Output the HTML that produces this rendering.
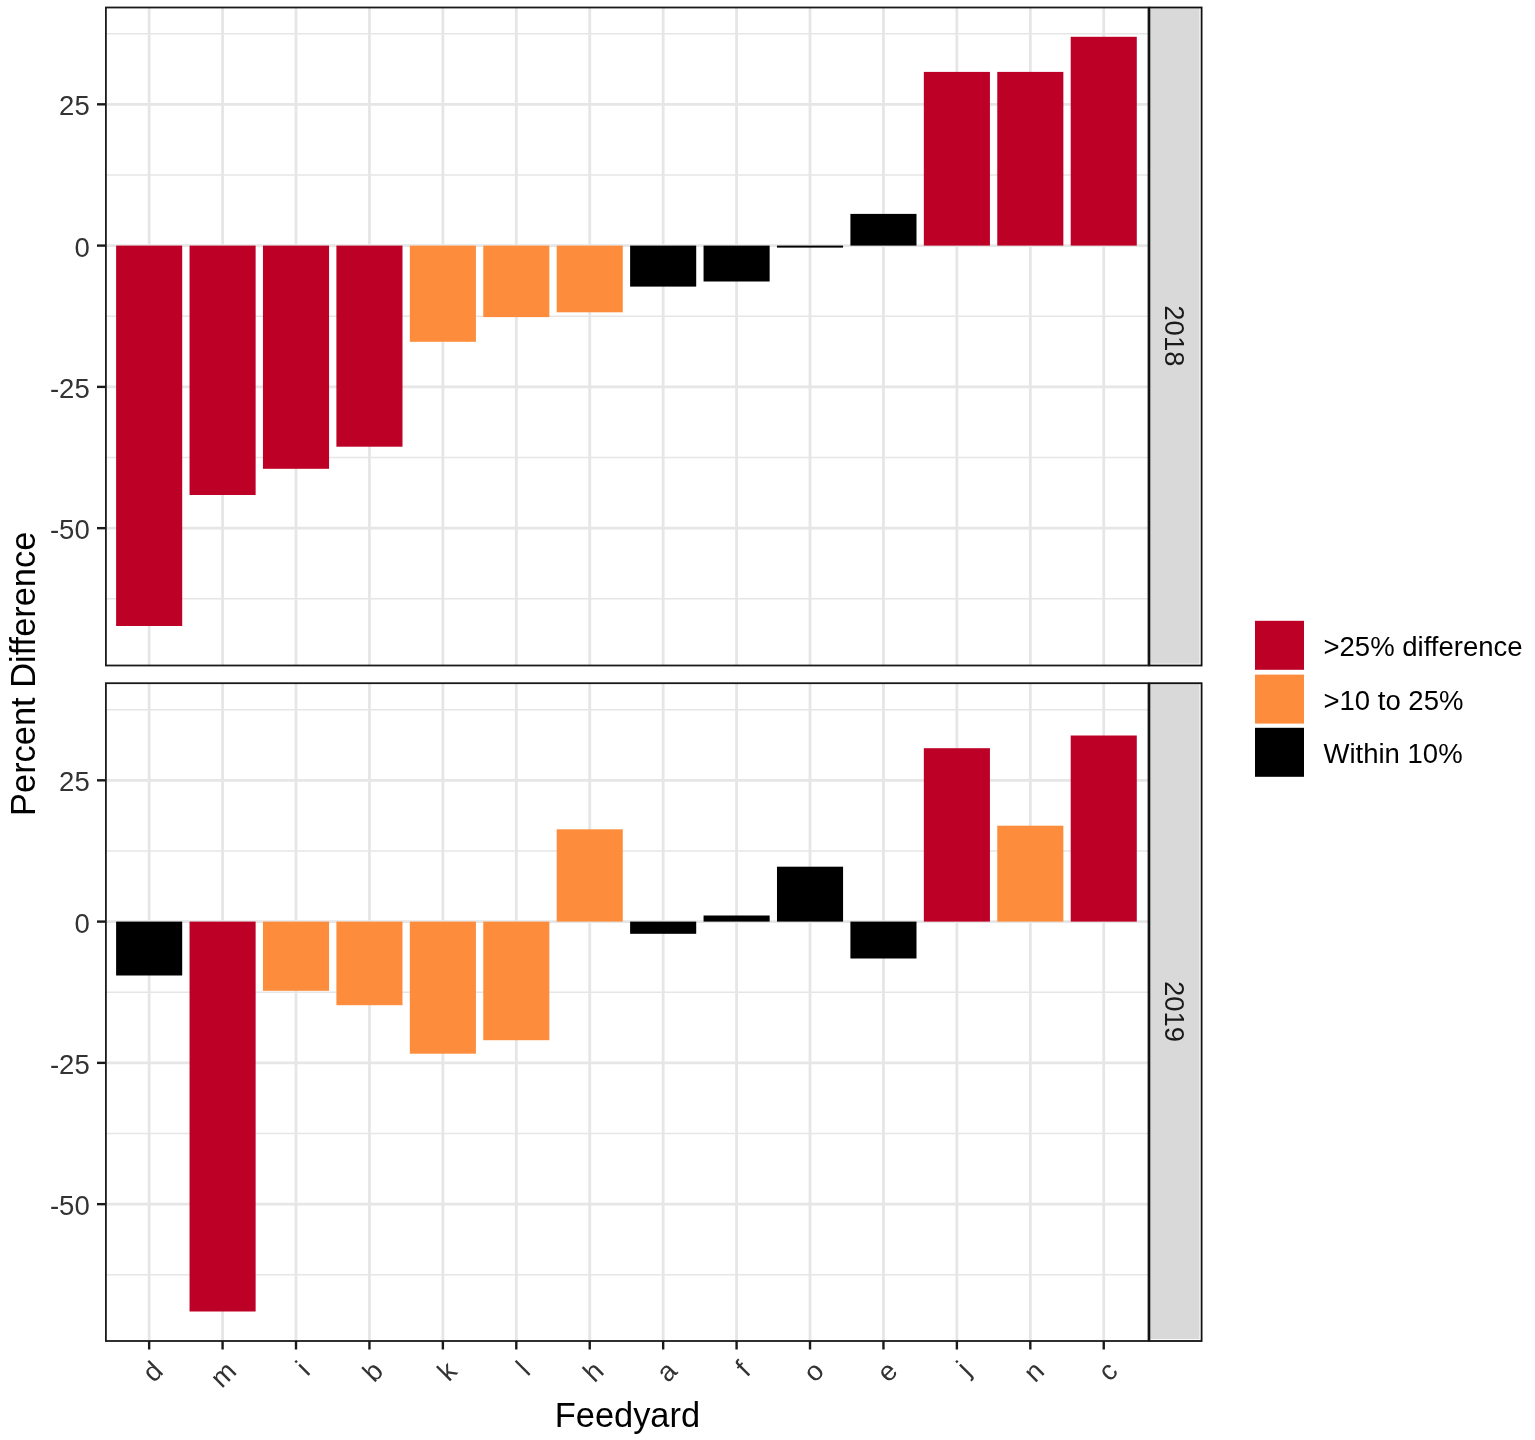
<!DOCTYPE html>
<html><head><meta charset="utf-8"><title>Percent Difference by Feedyard</title>
<style>
html,body{margin:0;padding:0;background:#fff;}
svg{display:block;}
text{font-family:"Liberation Sans",Arial,sans-serif;}
.ax{font-size:27.5px;fill:#333333;}
.st{font-size:27.5px;fill:#1A1A1A;}
.lg{font-size:27.5px;fill:#000;}
.ti{font-size:34.4px;fill:#000;}
</style></head><body>
<svg width="1535" height="1440" viewBox="0 0 1535 1440">
<rect width="1535" height="1440" fill="#fff"/>
<rect x="105.9" y="7.5" width="1042.6" height="658.0" fill="#fff"/>
<line x1="105.9" x2="1148.5" y1="33.68" y2="33.68" stroke="#E6E6E6" stroke-width="1.4"/>
<line x1="105.9" x2="1148.5" y1="174.96" y2="174.96" stroke="#E6E6E6" stroke-width="1.4"/>
<line x1="105.9" x2="1148.5" y1="316.24" y2="316.24" stroke="#E6E6E6" stroke-width="1.4"/>
<line x1="105.9" x2="1148.5" y1="457.52" y2="457.52" stroke="#E6E6E6" stroke-width="1.4"/>
<line x1="105.9" x2="1148.5" y1="598.80" y2="598.80" stroke="#E6E6E6" stroke-width="1.4"/>
<line x1="105.9" x2="1148.5" y1="104.32" y2="104.32" stroke="#E6E6E6" stroke-width="2.8"/>
<line x1="105.9" x2="1148.5" y1="245.60" y2="245.60" stroke="#E6E6E6" stroke-width="2.8"/>
<line x1="105.9" x2="1148.5" y1="386.88" y2="386.88" stroke="#E6E6E6" stroke-width="2.8"/>
<line x1="105.9" x2="1148.5" y1="528.16" y2="528.16" stroke="#E6E6E6" stroke-width="2.8"/>
<line x1="149.15" x2="149.15" y1="7.5" y2="665.5" stroke="#E6E6E6" stroke-width="2.8"/>
<line x1="222.58" x2="222.58" y1="7.5" y2="665.5" stroke="#E6E6E6" stroke-width="2.8"/>
<line x1="296.01" x2="296.01" y1="7.5" y2="665.5" stroke="#E6E6E6" stroke-width="2.8"/>
<line x1="369.44" x2="369.44" y1="7.5" y2="665.5" stroke="#E6E6E6" stroke-width="2.8"/>
<line x1="442.87" x2="442.87" y1="7.5" y2="665.5" stroke="#E6E6E6" stroke-width="2.8"/>
<line x1="516.30" x2="516.30" y1="7.5" y2="665.5" stroke="#E6E6E6" stroke-width="2.8"/>
<line x1="589.73" x2="589.73" y1="7.5" y2="665.5" stroke="#E6E6E6" stroke-width="2.8"/>
<line x1="663.16" x2="663.16" y1="7.5" y2="665.5" stroke="#E6E6E6" stroke-width="2.8"/>
<line x1="736.59" x2="736.59" y1="7.5" y2="665.5" stroke="#E6E6E6" stroke-width="2.8"/>
<line x1="810.02" x2="810.02" y1="7.5" y2="665.5" stroke="#E6E6E6" stroke-width="2.8"/>
<line x1="883.45" x2="883.45" y1="7.5" y2="665.5" stroke="#E6E6E6" stroke-width="2.8"/>
<line x1="956.88" x2="956.88" y1="7.5" y2="665.5" stroke="#E6E6E6" stroke-width="2.8"/>
<line x1="1030.31" x2="1030.31" y1="7.5" y2="665.5" stroke="#E6E6E6" stroke-width="2.8"/>
<line x1="1103.74" x2="1103.74" y1="7.5" y2="665.5" stroke="#E6E6E6" stroke-width="2.8"/>
<rect x="116.11" y="245.60" width="66.09" height="380.40" fill="#BD0026"/>
<rect x="189.54" y="245.60" width="66.09" height="249.40" fill="#BD0026"/>
<rect x="262.96" y="245.60" width="66.09" height="223.20" fill="#BD0026"/>
<rect x="336.40" y="245.60" width="66.09" height="201.10" fill="#BD0026"/>
<rect x="409.82" y="245.60" width="66.09" height="96.20" fill="#FD8D3C"/>
<rect x="483.26" y="245.60" width="66.09" height="71.50" fill="#FD8D3C"/>
<rect x="556.69" y="245.60" width="66.09" height="66.70" fill="#FD8D3C"/>
<rect x="630.12" y="245.60" width="66.09" height="41.00" fill="#000000"/>
<rect x="703.55" y="245.60" width="66.09" height="35.90" fill="#000000"/>
<rect x="776.98" y="245.60" width="66.09" height="2.00" fill="#000000"/>
<rect x="850.41" y="213.90" width="66.09" height="31.70" fill="#000000"/>
<rect x="923.84" y="71.90" width="66.09" height="173.70" fill="#BD0026"/>
<rect x="997.27" y="71.90" width="66.09" height="173.70" fill="#BD0026"/>
<rect x="1070.70" y="36.80" width="66.09" height="208.80" fill="#BD0026"/>
<rect x="105.9" y="7.5" width="1042.6" height="658.0" fill="none" stroke="#1A1A1A" stroke-width="1.8"/>
<rect x="1149.4" y="7.5" width="52.19999999999982" height="658.0" fill="#fff"/>
<rect x="1149.9" y="8.3" width="49.59999999999982" height="655.4" fill="#D9D9D9"/>
<rect x="1149.4" y="7.5" width="52.19999999999982" height="658.0" fill="none" stroke="#111" stroke-width="1.8"/>
<text x="0" y="0" transform="translate(1174.3 335.9) rotate(90)" text-anchor="middle" dy="0.355em" class="st">2018</text>
<line x1="97" x2="105.9" y1="104.32" y2="104.32" stroke="#1A1A1A" stroke-width="2.4"/>
<text x="89.7" y="115.22" text-anchor="end" class="ax">25</text>
<line x1="97" x2="105.9" y1="245.60" y2="245.60" stroke="#1A1A1A" stroke-width="2.4"/>
<text x="89.7" y="256.50" text-anchor="end" class="ax">0</text>
<line x1="97" x2="105.9" y1="386.88" y2="386.88" stroke="#1A1A1A" stroke-width="2.4"/>
<text x="89.7" y="397.78" text-anchor="end" class="ax">-25</text>
<line x1="97" x2="105.9" y1="528.16" y2="528.16" stroke="#1A1A1A" stroke-width="2.4"/>
<text x="89.7" y="539.06" text-anchor="end" class="ax">-50</text>
<rect x="105.9" y="683.2" width="1042.6" height="657.8" fill="#fff"/>
<line x1="105.9" x2="1148.5" y1="709.68" y2="709.68" stroke="#E6E6E6" stroke-width="1.4"/>
<line x1="105.9" x2="1148.5" y1="850.96" y2="850.96" stroke="#E6E6E6" stroke-width="1.4"/>
<line x1="105.9" x2="1148.5" y1="992.24" y2="992.24" stroke="#E6E6E6" stroke-width="1.4"/>
<line x1="105.9" x2="1148.5" y1="1133.52" y2="1133.52" stroke="#E6E6E6" stroke-width="1.4"/>
<line x1="105.9" x2="1148.5" y1="1274.80" y2="1274.80" stroke="#E6E6E6" stroke-width="1.4"/>
<line x1="105.9" x2="1148.5" y1="780.32" y2="780.32" stroke="#E6E6E6" stroke-width="2.8"/>
<line x1="105.9" x2="1148.5" y1="921.60" y2="921.60" stroke="#E6E6E6" stroke-width="2.8"/>
<line x1="105.9" x2="1148.5" y1="1062.88" y2="1062.88" stroke="#E6E6E6" stroke-width="2.8"/>
<line x1="105.9" x2="1148.5" y1="1204.16" y2="1204.16" stroke="#E6E6E6" stroke-width="2.8"/>
<line x1="149.15" x2="149.15" y1="683.2" y2="1341.0" stroke="#E6E6E6" stroke-width="2.8"/>
<line x1="222.58" x2="222.58" y1="683.2" y2="1341.0" stroke="#E6E6E6" stroke-width="2.8"/>
<line x1="296.01" x2="296.01" y1="683.2" y2="1341.0" stroke="#E6E6E6" stroke-width="2.8"/>
<line x1="369.44" x2="369.44" y1="683.2" y2="1341.0" stroke="#E6E6E6" stroke-width="2.8"/>
<line x1="442.87" x2="442.87" y1="683.2" y2="1341.0" stroke="#E6E6E6" stroke-width="2.8"/>
<line x1="516.30" x2="516.30" y1="683.2" y2="1341.0" stroke="#E6E6E6" stroke-width="2.8"/>
<line x1="589.73" x2="589.73" y1="683.2" y2="1341.0" stroke="#E6E6E6" stroke-width="2.8"/>
<line x1="663.16" x2="663.16" y1="683.2" y2="1341.0" stroke="#E6E6E6" stroke-width="2.8"/>
<line x1="736.59" x2="736.59" y1="683.2" y2="1341.0" stroke="#E6E6E6" stroke-width="2.8"/>
<line x1="810.02" x2="810.02" y1="683.2" y2="1341.0" stroke="#E6E6E6" stroke-width="2.8"/>
<line x1="883.45" x2="883.45" y1="683.2" y2="1341.0" stroke="#E6E6E6" stroke-width="2.8"/>
<line x1="956.88" x2="956.88" y1="683.2" y2="1341.0" stroke="#E6E6E6" stroke-width="2.8"/>
<line x1="1030.31" x2="1030.31" y1="683.2" y2="1341.0" stroke="#E6E6E6" stroke-width="2.8"/>
<line x1="1103.74" x2="1103.74" y1="683.2" y2="1341.0" stroke="#E6E6E6" stroke-width="2.8"/>
<rect x="116.11" y="921.60" width="66.09" height="53.90" fill="#000000"/>
<rect x="189.54" y="921.60" width="66.09" height="389.90" fill="#BD0026"/>
<rect x="262.96" y="921.60" width="66.09" height="69.20" fill="#FD8D3C"/>
<rect x="336.40" y="921.60" width="66.09" height="83.60" fill="#FD8D3C"/>
<rect x="409.82" y="921.60" width="66.09" height="132.10" fill="#FD8D3C"/>
<rect x="483.26" y="921.60" width="66.09" height="118.60" fill="#FD8D3C"/>
<rect x="556.69" y="829.30" width="66.09" height="92.30" fill="#FD8D3C"/>
<rect x="630.12" y="921.60" width="66.09" height="12.20" fill="#000000"/>
<rect x="703.55" y="915.50" width="66.09" height="6.10" fill="#000000"/>
<rect x="776.98" y="866.70" width="66.09" height="54.90" fill="#000000"/>
<rect x="850.41" y="921.60" width="66.09" height="36.90" fill="#000000"/>
<rect x="923.84" y="748.20" width="66.09" height="173.40" fill="#BD0026"/>
<rect x="997.27" y="825.70" width="66.09" height="95.90" fill="#FD8D3C"/>
<rect x="1070.70" y="735.50" width="66.09" height="186.10" fill="#BD0026"/>
<rect x="105.9" y="683.2" width="1042.6" height="657.8" fill="none" stroke="#1A1A1A" stroke-width="1.8"/>
<rect x="1149.4" y="683.2" width="52.19999999999982" height="657.8" fill="#fff"/>
<rect x="1149.9" y="684.0" width="49.59999999999982" height="655.1999999999999" fill="#D9D9D9"/>
<rect x="1149.4" y="683.2" width="52.19999999999982" height="657.8" fill="none" stroke="#111" stroke-width="1.8"/>
<text x="0" y="0" transform="translate(1174.3 1011.5) rotate(90)" text-anchor="middle" dy="0.355em" class="st">2019</text>
<line x1="97" x2="105.9" y1="780.32" y2="780.32" stroke="#1A1A1A" stroke-width="2.4"/>
<text x="89.7" y="791.22" text-anchor="end" class="ax">25</text>
<line x1="97" x2="105.9" y1="921.60" y2="921.60" stroke="#1A1A1A" stroke-width="2.4"/>
<text x="89.7" y="932.50" text-anchor="end" class="ax">0</text>
<line x1="97" x2="105.9" y1="1062.88" y2="1062.88" stroke="#1A1A1A" stroke-width="2.4"/>
<text x="89.7" y="1073.78" text-anchor="end" class="ax">-25</text>
<line x1="97" x2="105.9" y1="1204.16" y2="1204.16" stroke="#1A1A1A" stroke-width="2.4"/>
<text x="89.7" y="1215.06" text-anchor="end" class="ax">-50</text>
<line x1="149.15" x2="149.15" y1="1341.0" y2="1349.5" stroke="#1A1A1A" stroke-width="2.4"/>
<text x="0" y="0" transform="translate(164.65 1372.7) rotate(-45)" text-anchor="end" class="ax">d</text>
<line x1="222.58" x2="222.58" y1="1341.0" y2="1349.5" stroke="#1A1A1A" stroke-width="2.4"/>
<text x="0" y="0" transform="translate(238.08 1372.7) rotate(-45)" text-anchor="end" class="ax">m</text>
<line x1="296.01" x2="296.01" y1="1341.0" y2="1349.5" stroke="#1A1A1A" stroke-width="2.4"/>
<text x="0" y="0" transform="translate(311.51 1372.7) rotate(-45)" text-anchor="end" class="ax">i</text>
<line x1="369.44" x2="369.44" y1="1341.0" y2="1349.5" stroke="#1A1A1A" stroke-width="2.4"/>
<text x="0" y="0" transform="translate(384.94 1372.7) rotate(-45)" text-anchor="end" class="ax">b</text>
<line x1="442.87" x2="442.87" y1="1341.0" y2="1349.5" stroke="#1A1A1A" stroke-width="2.4"/>
<text x="0" y="0" transform="translate(458.37 1372.7) rotate(-45)" text-anchor="end" class="ax">k</text>
<line x1="516.30" x2="516.30" y1="1341.0" y2="1349.5" stroke="#1A1A1A" stroke-width="2.4"/>
<text x="0" y="0" transform="translate(531.80 1372.7) rotate(-45)" text-anchor="end" class="ax">l</text>
<line x1="589.73" x2="589.73" y1="1341.0" y2="1349.5" stroke="#1A1A1A" stroke-width="2.4"/>
<text x="0" y="0" transform="translate(605.23 1372.7) rotate(-45)" text-anchor="end" class="ax">h</text>
<line x1="663.16" x2="663.16" y1="1341.0" y2="1349.5" stroke="#1A1A1A" stroke-width="2.4"/>
<text x="0" y="0" transform="translate(678.66 1372.7) rotate(-45)" text-anchor="end" class="ax">a</text>
<line x1="736.59" x2="736.59" y1="1341.0" y2="1349.5" stroke="#1A1A1A" stroke-width="2.4"/>
<text x="0" y="0" transform="translate(752.09 1372.7) rotate(-45)" text-anchor="end" class="ax">f</text>
<line x1="810.02" x2="810.02" y1="1341.0" y2="1349.5" stroke="#1A1A1A" stroke-width="2.4"/>
<text x="0" y="0" transform="translate(825.52 1372.7) rotate(-45)" text-anchor="end" class="ax">o</text>
<line x1="883.45" x2="883.45" y1="1341.0" y2="1349.5" stroke="#1A1A1A" stroke-width="2.4"/>
<text x="0" y="0" transform="translate(898.95 1372.7) rotate(-45)" text-anchor="end" class="ax">e</text>
<line x1="956.88" x2="956.88" y1="1341.0" y2="1349.5" stroke="#1A1A1A" stroke-width="2.4"/>
<text x="0" y="0" transform="translate(972.38 1372.7) rotate(-45)" text-anchor="end" class="ax">j</text>
<line x1="1030.31" x2="1030.31" y1="1341.0" y2="1349.5" stroke="#1A1A1A" stroke-width="2.4"/>
<text x="0" y="0" transform="translate(1045.81 1372.7) rotate(-45)" text-anchor="end" class="ax">n</text>
<line x1="1103.74" x2="1103.74" y1="1341.0" y2="1349.5" stroke="#1A1A1A" stroke-width="2.4"/>
<text x="0" y="0" transform="translate(1119.24 1372.7) rotate(-45)" text-anchor="end" class="ax">c</text>
<text x="627.4" y="1426.9" text-anchor="middle" class="ti">Feedyard</text>
<text x="0" y="0" transform="translate(35.4 673.8) rotate(-90)" text-anchor="middle" class="ti">Percent Difference</text>
<rect x="1255" y="620.8" width="49" height="49" fill="#BD0026"/>
<text x="1323.5" y="656.2" class="lg">&gt;25% difference</text>
<rect x="1255" y="674.6" width="49" height="49" fill="#FD8D3C"/>
<text x="1323.5" y="710.0" class="lg">&gt;10 to 25%</text>
<rect x="1255" y="727.8" width="49" height="49" fill="#000000"/>
<text x="1323.5" y="763.2" class="lg">Within 10%</text>
</svg>
</body></html>
